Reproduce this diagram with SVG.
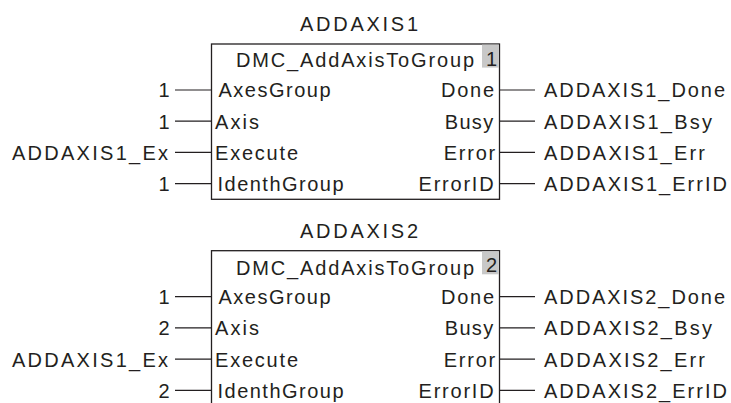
<svg xmlns="http://www.w3.org/2000/svg" width="731" height="403" viewBox="0 0 731 403">
<style>
text{font-family:"Liberation Sans",Arial,Helvetica,sans-serif;font-size:20px;fill:#231f20}
.box{fill:#fff;stroke:#231f20;stroke-width:1.3}
.tag{fill:#c8c8c8}
.num{font-size:20px}
.wire{stroke:#231f20;stroke-width:1.2;fill:none}
.r{text-anchor:end}
</style>
<rect width="731" height="403" fill="#fff"/>
<g id="connectors">
<path class="wire" d="M175 90H211.5M175 121.2H211.5M175 152.4H211.5M175 183.6H211.5M499.5 90H535M499.5 121.2H535M499.5 152.4H535M499.5 183.6H535"/>
<path class="wire" d="M175 296.7H211.5M175 327.9H211.5M175 359.1H211.5M175 390.3H211.5M499.5 296.7H535M499.5 327.9H535M499.5 359.1H535M499.5 390.3H535"/>
</g>
<g id="addaxis1">
<text x="300" y="30.5" textLength="118" lengthAdjust="spacing">ADDAXIS1</text>
<rect class="box" x="211.5" y="44" width="288" height="155.3"/>
<rect class="tag" x="482" y="44.6" width="16.9" height="23"/>
<text class="num" x="486" y="65.5">1</text>
<text x="236" y="67" textLength="238" lengthAdjust="spacing">DMC_AddAxisToGroup</text>
<text x="218.5" y="97.4" textLength="112" lengthAdjust="spacing">AxesGroup</text>
<text x="215" y="128.6" textLength="44" lengthAdjust="spacing">Axis</text>
<text x="215" y="159.8" textLength="83" lengthAdjust="spacing">Execute</text>
<text x="217.5" y="191" textLength="126" lengthAdjust="spacing">IdenthGroup</text>
<text x="441" y="97.4" textLength="53" lengthAdjust="spacing">Done</text>
<text x="444.7" y="128.6" textLength="48.5" lengthAdjust="spacing">Busy</text>
<text x="443.7" y="159.8" textLength="51.5" lengthAdjust="spacing">Error</text>
<text x="418.6" y="191" textLength="75" lengthAdjust="spacing">ErrorID</text>
</g>
<g id="addaxis1-inputs">
<text class="r" x="169.5" y="97.4">1</text>
<text class="r" x="169.5" y="128.6">1</text>
<text x="12" y="159.8" textLength="156" lengthAdjust="spacing">ADDAXIS1_Ex</text>
<text class="r" x="169.5" y="191">1</text>
</g>
<g id="addaxis1-outputs">
<text x="544" y="97.4" textLength="181" lengthAdjust="spacing">ADDAXIS1_Done</text>
<text x="544" y="128.6" textLength="168" lengthAdjust="spacing">ADDAXIS1_Bsy</text>
<text x="544" y="159.8" textLength="161" lengthAdjust="spacing">ADDAXIS1_Err</text>
<text x="544" y="191" textLength="183" lengthAdjust="spacing">ADDAXIS1_ErrID</text>
</g>
<g id="addaxis2">
<text x="300" y="238" textLength="118" lengthAdjust="spacing">ADDAXIS2</text>
<rect class="box" x="211.5" y="250.7" width="288" height="155.3"/>
<rect class="tag" x="482" y="251.3" width="16.9" height="23"/>
<text class="num" x="486" y="272.2">2</text>
<text x="236" y="275" textLength="238" lengthAdjust="spacing">DMC_AddAxisToGroup</text>
<text x="218.5" y="304.1" textLength="112" lengthAdjust="spacing">AxesGroup</text>
<text x="215" y="335.3" textLength="44" lengthAdjust="spacing">Axis</text>
<text x="215" y="366.5" textLength="83" lengthAdjust="spacing">Execute</text>
<text x="217.5" y="397.7" textLength="126" lengthAdjust="spacing">IdenthGroup</text>
<text x="441" y="304.1" textLength="53" lengthAdjust="spacing">Done</text>
<text x="444.7" y="335.3" textLength="48.5" lengthAdjust="spacing">Busy</text>
<text x="443.7" y="366.5" textLength="51.5" lengthAdjust="spacing">Error</text>
<text x="418.6" y="397.7" textLength="75" lengthAdjust="spacing">ErrorID</text>
</g>
<g id="addaxis2-inputs">
<text class="r" x="169.5" y="304.1">1</text>
<text class="r" x="169.5" y="335.3">2</text>
<text x="12" y="366.5" textLength="156" lengthAdjust="spacing">ADDAXIS1_Ex</text>
<text class="r" x="169.5" y="397.7">2</text>
</g>
<g id="addaxis2-outputs">
<text x="544" y="304.1" textLength="181" lengthAdjust="spacing">ADDAXIS2_Done</text>
<text x="544" y="335.3" textLength="168" lengthAdjust="spacing">ADDAXIS2_Bsy</text>
<text x="544" y="366.5" textLength="161" lengthAdjust="spacing">ADDAXIS2_Err</text>
<text x="544" y="397.7" textLength="183" lengthAdjust="spacing">ADDAXIS2_ErrID</text>
</g>
</svg>
